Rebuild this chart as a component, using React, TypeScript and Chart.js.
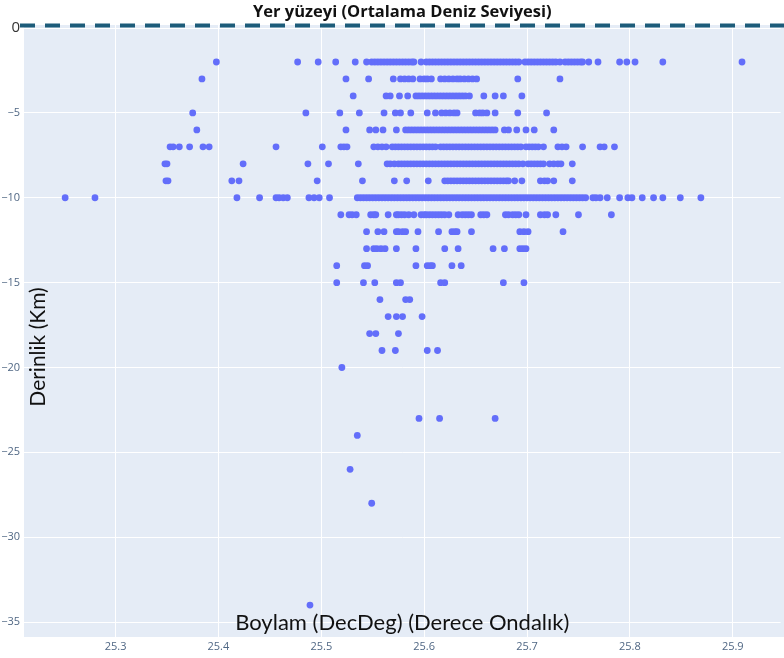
import { useEffect, useRef } from "react";
import { Chart, registerables } from "chart.js";

Chart.register(...registerables);

const TITLE = "Yer yüzeyi (Ortalama Deniz Seviyesi)";
const X_LABEL = "Boylam (DecDeg) (Derece Ondalık)";
const Y_LABEL = "Derinlik (Km)";
const X_TICKS = [25.3, 25.4, 25.5, 25.6, 25.7, 25.8, 25.9];
const Y_TICKS = [0, -5, -10, -15, -20, -25, -30, -35];
const X_MIN = 25.211;
const X_MAX = 25.9465;
const Y_MIN = -35.88;
const Y_MAX = 0.18;

// longitudes of the events, grouped by depth (km)
const lonAt2 = [25.398, 25.477, 25.497, 25.514, 25.533, 25.544, 25.549, 25.552, 25.555, 25.558, 25.561, 25.564, 25.567, 25.57, 25.573, 25.576, 25.579, 25.582, 25.585, 25.588, 25.59, 25.597, 25.602, 25.605, 25.608, 25.611, 25.614, 25.617, 25.62, 25.623, 25.626, 25.629, 25.632, 25.635, 25.638, 25.641, 25.644, 25.647, 25.65, 25.653, 25.656, 25.659, 25.662, 25.665, 25.668, 25.671, 25.674, 25.677, 25.68, 25.683, 25.686, 25.689, 25.692, 25.698, 25.701, 25.704, 25.707, 25.71, 25.713, 25.716, 25.719, 25.722, 25.725, 25.728, 25.732, 25.737, 25.74, 25.743, 25.746, 25.749, 25.752, 25.754, 25.76, 25.769, 25.79, 25.797, 25.805, 25.832, 25.909];
const lonAt3 = [25.384, 25.524, 25.546, 25.57, 25.577, 25.581, 25.585, 25.589, 25.596, 25.6, 25.603, 25.607, 25.616, 25.62, 25.624, 25.628, 25.632, 25.635, 25.639, 25.643, 25.647, 25.651, 25.691, 25.732];
const lonAt4 = [25.531, 25.563, 25.567, 25.576, 25.584, 25.592, 25.595, 25.598, 25.601, 25.604, 25.607, 25.61, 25.613, 25.616, 25.619, 25.622, 25.625, 25.628, 25.631, 25.634, 25.637, 25.64, 25.644, 25.658, 25.669, 25.677, 25.695];
const lonAt5 = [25.375, 25.485, 25.518, 25.537, 25.561, 25.572, 25.577, 25.587, 25.603, 25.611, 25.617, 25.621, 25.625, 25.629, 25.632, 25.65, 25.654, 25.657, 25.661, 25.669, 25.691, 25.719];
const lonAt6 = [25.379, 25.524, 25.547, 25.553, 25.56, 25.573, 25.582, 25.585, 25.588, 25.591, 25.594, 25.597, 25.6, 25.603, 25.606, 25.609, 25.612, 25.615, 25.618, 25.621, 25.624, 25.627, 25.63, 25.633, 25.636, 25.639, 25.642, 25.645, 25.648, 25.651, 25.654, 25.657, 25.66, 25.663, 25.666, 25.669, 25.678, 25.682, 25.69, 25.699, 25.707, 25.726];
const lonAt7 = [25.353, 25.356, 25.362, 25.372, 25.385, 25.391, 25.456, 25.501, 25.519, 25.522, 25.525, 25.551, 25.555, 25.559, 25.563, 25.569, 25.572, 25.575, 25.578, 25.581, 25.584, 25.587, 25.59, 25.593, 25.596, 25.599, 25.602, 25.605, 25.608, 25.611, 25.616, 25.619, 25.622, 25.625, 25.628, 25.631, 25.634, 25.637, 25.64, 25.643, 25.646, 25.649, 25.652, 25.655, 25.658, 25.661, 25.664, 25.667, 25.67, 25.673, 25.676, 25.679, 25.682, 25.685, 25.688, 25.691, 25.694, 25.699, 25.702, 25.705, 25.708, 25.711, 25.716, 25.73, 25.734, 25.738, 25.754, 25.771, 25.775, 25.785];
const lonAt8 = [25.348, 25.35, 25.424, 25.487, 25.507, 25.536, 25.564, 25.567, 25.571, 25.575, 25.578, 25.581, 25.584, 25.587, 25.59, 25.593, 25.596, 25.599, 25.602, 25.605, 25.608, 25.611, 25.614, 25.617, 25.62, 25.623, 25.626, 25.629, 25.632, 25.635, 25.638, 25.641, 25.644, 25.647, 25.65, 25.653, 25.656, 25.659, 25.662, 25.665, 25.668, 25.671, 25.674, 25.677, 25.68, 25.683, 25.686, 25.689, 25.692, 25.696, 25.701, 25.704, 25.707, 25.71, 25.713, 25.716, 25.722, 25.726, 25.73, 25.733, 25.744];
const lonAt9 = [25.349, 25.351, 25.413, 25.42, 25.496, 25.54, 25.571, 25.583, 25.604, 25.62, 25.623, 25.626, 25.629, 25.632, 25.635, 25.638, 25.641, 25.644, 25.647, 25.65, 25.653, 25.656, 25.659, 25.662, 25.665, 25.668, 25.671, 25.674, 25.677, 25.68, 25.682, 25.688, 25.695, 25.713, 25.717, 25.72, 25.726, 25.744];
const lonAt10 = [25.251, 25.28, 25.418, 25.44, 25.456, 25.459, 25.463, 25.467, 25.488, 25.493, 25.498, 25.508, 25.535, 25.538, 25.541, 25.544, 25.547, 25.55, 25.553, 25.556, 25.559, 25.562, 25.565, 25.568, 25.571, 25.574, 25.577, 25.58, 25.583, 25.586, 25.589, 25.592, 25.595, 25.598, 25.601, 25.604, 25.607, 25.61, 25.613, 25.616, 25.619, 25.622, 25.625, 25.628, 25.631, 25.634, 25.637, 25.64, 25.643, 25.646, 25.649, 25.652, 25.655, 25.658, 25.661, 25.664, 25.667, 25.67, 25.673, 25.676, 25.679, 25.682, 25.685, 25.688, 25.691, 25.694, 25.697, 25.7, 25.703, 25.706, 25.709, 25.712, 25.715, 25.718, 25.721, 25.724, 25.727, 25.73, 25.733, 25.736, 25.739, 25.742, 25.745, 25.748, 25.751, 25.754, 25.757, 25.764, 25.767, 25.771, 25.778, 25.79, 25.798, 25.802, 25.812, 25.823, 25.832, 25.849, 25.869];
const lonAt11 = [25.519, 25.527, 25.53, 25.534, 25.548, 25.551, 25.553, 25.565, 25.573, 25.575, 25.578, 25.581, 25.585, 25.59, 25.597, 25.6, 25.602, 25.605, 25.608, 25.611, 25.614, 25.617, 25.62, 25.624, 25.633, 25.637, 25.64, 25.643, 25.646, 25.655, 25.658, 25.661, 25.679, 25.682, 25.686, 25.689, 25.692, 25.699, 25.713, 25.717, 25.72, 25.728, 25.75, 25.782];
const lonAt12 = [25.544, 25.555, 25.561, 25.573, 25.575, 25.579, 25.582, 25.594, 25.614, 25.627, 25.63, 25.632, 25.646, 25.693, 25.697, 25.701, 25.735];
const lonAt13 = [25.544, 25.551, 25.554, 25.558, 25.562, 25.573, 25.592, 25.62, 25.633, 25.667, 25.678, 25.693, 25.696, 25.699];
const lonAt14 = [25.515, 25.542, 25.545, 25.592, 25.603, 25.606, 25.608, 25.627, 25.636];
const lonAt15 = [25.515, 25.541, 25.552, 25.573, 25.577, 25.616, 25.62, 25.677, 25.697];
const lonAt16 = [25.557, 25.582, 25.586];
const lonAt17 = [25.565, 25.573, 25.579, 25.598];
const lonAt18 = [25.547, 25.553, 25.575];
const lonAt19 = [25.559, 25.572, 25.603, 25.613];
const lonAt20 = [25.52];
const lonAt23 = [25.595, 25.615, 25.669];
const lonAt24 = [25.535];
const lonAt26 = [25.528];
const lonAt28 = [25.549];
const lonAt34 = [25.489];

const DEPTH_ROWS: [number, number[]][] = [
  [2, lonAt2], [3, lonAt3], [4, lonAt4], [5, lonAt5], [6, lonAt6], [7, lonAt7],
  [8, lonAt8], [9, lonAt9], [10, lonAt10], [11, lonAt11], [12, lonAt12], [13, lonAt13],
  [14, lonAt14], [15, lonAt15], [16, lonAt16], [17, lonAt17], [18, lonAt18], [19, lonAt19],
  [20, lonAt20], [23, lonAt23], [24, lonAt24], [26, lonAt26], [28, lonAt28], [34, lonAt34],
];

const overlayPlugin = {
  id: "overlay",
  beforeDraw(chart: any) {
    const { ctx, chartArea } = chart;
    ctx.save();
    ctx.fillStyle = "#E5ECF6";
    ctx.fillRect(chartArea.left, chartArea.top, chart.width - chartArea.left, chartArea.bottom - chartArea.top);
    ctx.restore();
  },
  afterDraw(chart: any) {
    const { ctx, chartArea } = chart;
    const cx = (chartArea.left + chartArea.right) / 2;
    ctx.save();
    // sea-level dashed line
    const y0 = chartArea.top + 0.5;
    ctx.setLineDash([15, 10]);
    ctx.lineWidth = 4;
    ctx.strokeStyle = "#1d5c7a";
    ctx.beginPath();
    ctx.moveTo(chartArea.left - 4, y0);
    ctx.lineTo(chart.width, y0);
    ctx.stroke();
    ctx.setLineDash([]);
    // title
    ctx.fillStyle = "#111";
    ctx.textAlign = "center";
    ctx.textBaseline = "middle";
    ctx.font = "bold 16.5px 'Open Sans'";
    ctx.fillText(TITLE, cx, 12);
    // x axis label (inside plot)
    ctx.font = "22px Lato";
    ctx.fillText(X_LABEL, cx, chartArea.bottom - 14);
    // y axis label (inside plot)
    ctx.font = "21px Lato";
    ctx.translate(38, 347);
    ctx.rotate(-Math.PI / 2);
    ctx.fillText(Y_LABEL, 0, 0);
    ctx.restore();
  },
};

export default function App() {
  const ref = useRef<HTMLCanvasElement | null>(null);
  useEffect(() => {
    if (!ref.current) return;
    const points: { x: number; y: number }[] = [];
    DEPTH_ROWS.forEach(([depth, lons]) => {
      lons.forEach((lon) => points.push({ x: lon, y: -depth }));
    });
    const chart = new Chart(ref.current, {
      type: "scatter",
      data: {
        datasets: [
          {
            data: points,
            backgroundColor: "#636EFA",
            borderWidth: 0,
            pointRadius: 3.4,
            pointHoverRadius: 3.4,
          },
        ],
      },
      options: {
        animation: false,
        responsive: false,
        layout: { padding: { top: 25, left: 0, right: 0, bottom: 0 } },
        plugins: { legend: { display: false }, tooltip: { enabled: false }, title: { display: false } },
        scales: {
          x: {
            type: "linear",
            min: X_MIN,
            max: X_MAX,
            afterBuildTicks: (s: any) => {
              s.ticks = X_TICKS.map((v) => ({ value: v }));
            },
            afterFit: (s: any) => {
              s.height = 21;
            },
            grid: { color: "#ffffff", lineWidth: 1, drawTicks: false },
            border: { display: false },
            ticks: {
              padding: 3,
              color: "#506784",
              font: { size: 11, family: "'Open Sans'" },
              callback: (v: any) => Number(v).toFixed(1),
            },
          },
          y: {
            type: "linear",
            min: Y_MIN,
            max: Y_MAX,
            afterBuildTicks: (s: any) => {
              s.ticks = Y_TICKS.map((v) => ({ value: v }));
            },
            afterFit: (s: any) => {
              s.width = 24;
            },
            grid: { color: "#ffffff", lineWidth: 1, drawTicks: false },
            border: { display: false },
            ticks: {
              padding: 4,
              color: (c: any) => (c.tick && c.tick.value === 0 ? "#333" : "#506784"),
              font: (c: any) =>
                c.tick && c.tick.value === 0
                  ? { size: 15, family: "'Open Sans'" }
                  : { size: 11, family: "'Open Sans'" },
              callback: (v: any) => (Number(v) === 0 ? "0" : "\u2212" + Math.abs(Number(v))),
            },
          },
        },
      },
      plugins: [overlayPlugin],
    });
    return () => chart.destroy();
  }, []);
  return (
    <div style={{ position: "fixed", left: 0, top: 0, width: 784, height: 658, background: "#fff" }}>
      <canvas ref={ref} width={784} height={658} />
    </div>
  );
}
